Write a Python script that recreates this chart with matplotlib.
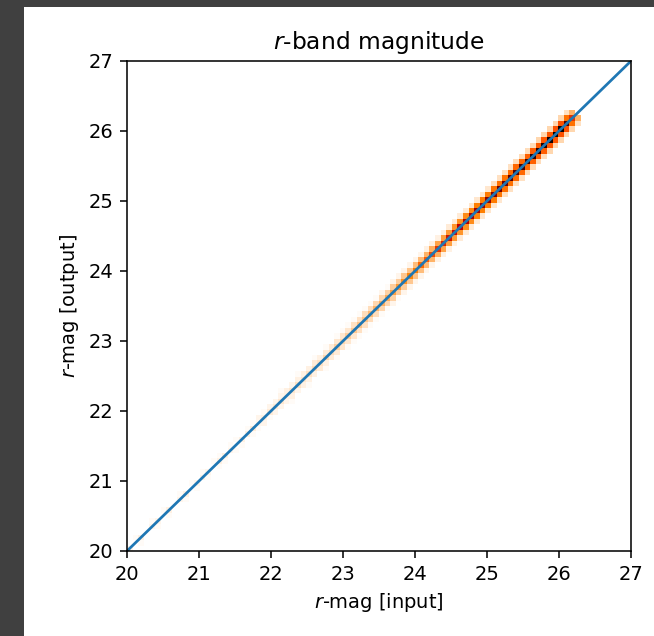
import numpy as np
import matplotlib
matplotlib.use("Agg")
import matplotlib.pyplot as plt
from matplotlib.colors import Normalize
from matplotlib.patches import Rectangle

# ---- data ----
mag_lo, mag_hi, nbins = 20.0, 27.0, 90
# counts of diagonal cells (bin k on both axes), k = 0..79
diag_counts = [2, 0, 3, 0, 2, 2, 0, 3, 0, 2, 3, 0, 2,
               3, 2, 0, 3, 3, 2, 0, 3, 3, 4, 2, 3, 4,
               4, 5, 3, 5, 6, 5, 6, 7, 6, 8, 7, 9, 8,
               10, 11, 12, 12, 14, 15, 16, 17, 19, 20, 22, 24, 26,
               30, 33, 36, 40, 43, 46,
               48, 50, 52, 55, 58, 60, 63,
               66, 70, 72, 75, 78, 82,
               85, 88, 90, 93, 96, 100, 98,
               80, 40]
# counts of the first neighbour cells on each side of the diagonal
near_counts = [0, 1, 0, 0, 1, 0, 1, 0, 0, 1, 0, 1, 0,
               1, 0, 1, 1, 0, 1, 1, 0, 1, 1, 2, 1, 2,
               2, 2, 3, 2, 3, 3, 3, 4, 3, 4, 4, 5, 5,
               5, 6, 6, 7, 7, 8, 8, 9, 10, 10, 11, 12, 13,
               14, 15, 16, 18, 19, 20,
               21, 22, 23, 24, 25, 26, 26,
               27, 28, 28, 29, 30, 30,
               31, 32, 32, 33, 33, 34, 34,
               28, 15]
# counts of the second neighbour cells on each side of the diagonal
far_counts = [0, 0, 0, 0, 0, 0, 0, 0, 0, 0, 0, 0, 0,
              0, 0, 0, 0, 0, 0, 0, 0, 0, 0, 0, 0, 0,
              0, 1, 0, 0, 1, 0, 0, 1, 0, 1, 0, 1, 1,
              1, 1, 1, 1, 1, 1, 2, 1, 2, 2, 2, 2, 2,
              2, 3, 3, 3, 3, 4,
              4, 4, 4, 5, 5, 5, 5,
              6, 6, 6, 6, 7, 7,
              7, 7, 8, 8, 8, 8, 8,
              6, 0]

edges = np.linspace(mag_lo, mag_hi, nbins + 1)
H = np.zeros((nbins, nbins))
for k, c in enumerate(diag_counts):
    H[k, k] += c
for k, c in enumerate(near_counts):
    if k + 1 < nbins:
        H[k + 1, k] += c
        H[k, k + 1] += c
for k, c in enumerate(far_counts):
    if k + 2 < nbins:
        H[k + 2, k] += c
        H[k, k + 2] += c
Hm = np.ma.masked_where(H <= 0, H)

W, Hpx, dpi = 654, 636, 140
fig = plt.figure(figsize=(W / dpi, Hpx / dpi), dpi=dpi, facecolor="#404040")
bg = Rectangle((24 / W, 0), 1 - 24 / W, 1 - 7 / Hpx,
               transform=fig.transFigure, facecolor="white",
               edgecolor="none", zorder=-10)
fig.add_artist(bg)
ax = fig.add_axes([127 / W, 1 - 551 / Hpx, (631 - 127) / W, (551 - 61) / Hpx])
ax.set_zorder(1)
ax.pcolormesh(edges, edges, Hm, cmap="gist_heat_r",
              norm=Normalize(vmin=0, vmax=100))
ax.plot([mag_lo, mag_hi], [mag_lo, mag_hi], color="C0", lw=1.4)
ax.set_xlim(mag_lo, mag_hi)
ax.set_ylim(mag_lo, mag_hi)
ax.set_xticks(range(20, 28))
ax.set_yticks(range(20, 28))
ax.set_xlabel("$r$-mag [input]")
ax.set_ylabel("$r$-mag [output]")
ax.set_title("$r$-band magnitude")
fig.savefig("out.png", dpi=dpi, facecolor=fig.get_facecolor())
